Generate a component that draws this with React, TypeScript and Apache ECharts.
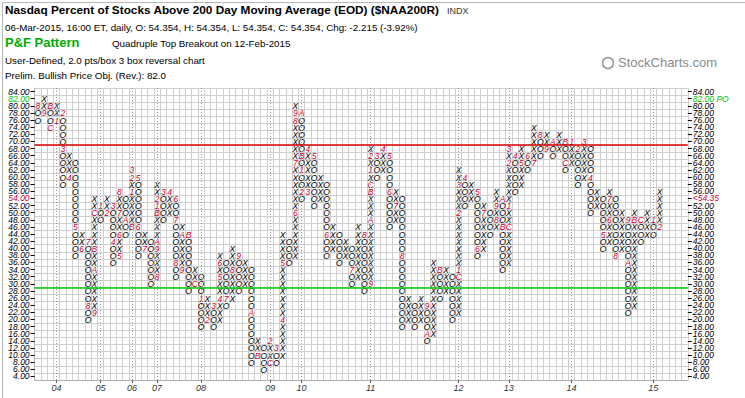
import React, { useEffect, useRef } from "react";
import * as echarts from "echarts";

// ---- P&F columns (even index = O column, odd index = X column), box size 2 ----
const colBottom = [76,78,74,76,58,60,38,40,20,22,48,50,36,38,44,46,38,40,30,32,48,50,32,34,28,30,18,20,18,20,24,26,28,30,8,10,6,8,8,10,36,38,54,56,52,54,38,40,36,38,30,32,28,30,60,62,46,48,18,20,18,20,14,16,26,28,20,22,52,54,38,40,44,46,34,36,56,58,62,64,66,68,66,68,62,64,58,60,50,52,40,42,38,40,22,24,42,44,44,46];
const colTop =    [80,82,80,80,78,66,64,44,42,54,52,54,52,56,54,62,60,44,42,58,56,56,54,46,44,34,32,26,24,38,36,40,38,36,34,14,12,14,12,44,42,80,78,68,66,60,58,46,44,42,40,46,44,68,66,68,66,56,54,26,24,26,24,36,34,34,32,62,60,58,56,52,50,56,54,68,66,68,66,74,72,72,70,72,70,70,68,70,68,56,54,56,54,50,48,50,48,50,48,56];

// ---- month markers (1-9, A=Oct, B=Nov, C=Dec) ----
const monthCol = [0,1,2,2,3,4,4,5,6,7,8,8,9,9,9,9,10,11,12,12,13,13,13,13,14,15,15,15,15,16,16,17,19,19,19,19,19,19,20,21,22,22,22,23,23,24,25,26,27,28,29,29,29,30,31,32,34,35,37,37,38,39,39,41,41,41,41,42,42,42,42,43,43,44,46,50,52,53,53,53,53,53,53,54,55,56,56,57,58,62,62,64,67,67,67,67,68,70,70,71,73,73,74,74,75,75,75,75,76,77,78,79,80,81,82,84,84,85,86,87,88,90,91,91,92,94,94,95,96,98,99];
const monthVal = [80,78,80,74,76,78,68,60,46,40,42,24,22,34,40,50,52,50,52,42,38,44,50,56,48,46,56,60,62,60,46,40,32,40,42,50,52,54,56,56,54,48,36,34,44,44,30,26,20,24,26,32,36,26,34,38,22,10,8,14,12,20,36,50,64,76,78,78,66,62,56,56,68,66,44,34,44,30,48,56,58,62,66,66,68,66,56,52,38,24,16,34,32,34,50,58,60,56,40,50,48,52,54,46,46,52,64,68,66,64,66,64,72,68,70,70,64,70,68,70,60,44,48,54,38,48,36,48,48,48,46];
const monthTxt = ["8","9","B","C","1","2","3","4","5","6","7","8","9","A","B","C","1","2","3","4","5","6","7","8","A","B","1","2","3","5","6","7","8","9","A","B","1","2","3","4","6","7","8","9","A","B","C","1","2","3","4","5","6","7","8","9","A","B","C","2","3","4","5","6","7","8","9","A","B","1","2","3","4","5","6","7","8","9","A","B","C","1","2","3","4","5","6","7","8","9","A","B","C","1","2","3","4","5","6","7","8","9","A","B","C","1","2","3","4","5","6","7","8","9","A","B","C","1","2","3","4","5","6","7","8","9","A","B","C","1","2"];

const yearCol = [3,10,15,19,26,37,42,53,67,75,85,98];
const yearTxt = ["04","05","06","07","08","09","10","11","12","13","14","15"];
const leftLabels = ["4.00","6.00","8.00","10.00","12.00","14.00","16.00","18.00","20.00","22.00","24.00","26.00","28.00","30.00","32.00","34.00","36.00","38.00","40.00","42.00","44.00","46.00","48.00","50.00","52.00","54.00","56.00","58.00","60.00","62.00","64.00","66.00","68.00","70.00","72.00","74.00","76.00","78.00","80.00","82.00","84.00"];
const rightLabels = ["4.00","6.00","8.00","10.00","12.00","14.00","16.00","18.00","20.00","22.00","24.00","26.00","28.00","30.00","32.00","34.00","36.00","38.00","40.00","42.00","44.00","46.00","48.00","50.00","52.00","<54.35","56.00","58.00","60.00","62.00","64.00","66.00","68.00","70.00","72.00","74.00","76.00","78.00","80.00","82.00 PO","84.00"];
const resistanceLevel = 69;
const supportLevel = 29;
const totalCols = 104;

const RED = "#cc0033";
const GREEN = "#00c000";
const FONT = "Liberation Sans";

export default function App() {
  const ref = useRef<HTMLDivElement>(null);
  useEffect(() => {
    document.body.style.margin = "0";
    const chart = echarts.init(ref.current!, null, { renderer: "svg" });
    const toY = (v: number) => (v - 3) / 2;
    const boxes: [number, number, string, boolean][] = [];
    colBottom.forEach((b, c) => {
      const t = c % 2 === 0 ? "O" : "X";
      for (let v = b; v <= colTop[c]; v += 2) boxes.push([c + 0.5, toY(v), t, false]);
    });
    monthCol.forEach((c, i) => {
      const idx = boxes.findIndex((bx) => bx[0] === c + 0.5 && bx[1] === toY(monthVal[i]));
      if (idx >= 0) { boxes[idx][2] = monthTxt[i]; boxes[idx][3] = true; }
    });
    const xCats = Array.from({ length: totalCols }, (_, i) => {
      const k = yearCol.indexOf(i);
      return k >= 0 ? yearTxt[k] : "";
    });
    const txt = (x: number, y: number, text: string, size: number, color = "#000", weight = "normal") => ({
      type: "text", left: x, top: y,
      style: { text, fill: color, fontSize: size, fontFamily: FONT, fontWeight: weight },
    });
    const axisLbl = (hl: (v: string) => string) => ({
      interval: 0, fontSize: 8.5, lineHeight: 7, fontFamily: FONT, fontStyle: "italic", color: "#000", margin: 5,
      formatter: hl,
      rich: {
        g: { color: GREEN, fontSize: 8.5, lineHeight: 7, fontStyle: "italic", fontFamily: FONT },
        r: { color: RED, fontSize: 8.5, lineHeight: 7, fontStyle: "italic", fontFamily: FONT },
      },
    });
    chart.setOption({
      animation: false,
      backgroundColor: "#fff",
      grid: { left: 34.6, right: 57.2, top: 88, bottom: 18 },
      graphic: [
        { type: "rect", left: 0, top: 0, shape: { width: 744, height: 397 }, style: { fill: "none", stroke: "#b8b8b8", lineWidth: 1 } },
        txt(5, 4, "Nasdaq Percent of Stocks Above 200 Day Moving Average (EOD) ($NAA200R)", 11.8, "#000", "bold"),
        txt(447, 6, "INDX", 9, "#333"),
        txt(5, 22, "06-Mar-2015, 16:00 ET, daily, O: 54.354, H: 54.354, L: 54.354, C: 54.354, Chg: -2.215 (-3.92%)", 9.8),
        txt(5, 36, "P&F Pattern", 13, "#00aa00", "bold"),
        txt(112, 38, "Quadruple Top Breakout on 12-Feb-2015", 9.8),
        txt(5, 55, "User-Defined, 2.0 pts/box 3 box reversal chart", 9.8),
        txt(5, 70, "Prelim. Bullish Price Obj. (Rev.): 82.0", 9.8),
        { type: "circle", shape: { cx: 608, cy: 63, r: 5.5 }, style: { fill: "none", stroke: "#999", lineWidth: 1.5 } },
        txt(618, 56, "StockCharts.com", 13, "#8a8a8a"),
      ],
      xAxis: [
        { type: "value", min: 0, max: totalCols, interval: 1, axisLabel: { show: false }, axisTick: { show: false },
          axisLine: { show: true, lineStyle: { color: "#b0b0b0" } }, splitLine: { show: true, lineStyle: { color: "#cfcfcf", width: 1 } } },
        { type: "category", data: xCats, position: "bottom", boundaryGap: true,
          axisLine: { show: false },
          axisTick: { show: true, alignWithLabel: true, length: 3, interval: (i: number) => yearCol.indexOf(i) >= 0, lineStyle: { color: "#666" } },
          axisLabel: { interval: 0, fontSize: 9, color: "#333", fontFamily: FONT, fontStyle: "italic", margin: 3 },
          splitLine: { show: false } },
      ],
      yAxis: [
        { type: "value", min: 0, max: 41, interval: 1, axisLabel: { show: false }, axisTick: { show: false },
          axisLine: { show: true, lineStyle: { color: "#b0b0b0" } }, splitLine: { show: true, lineStyle: { color: "#cfcfcf", width: 1 } } },
        { type: "category", data: leftLabels, position: "left", boundaryGap: true, axisLine: { show: false },
          axisTick: { show: true, alignWithLabel: true, length: 4, lineStyle: { color: "#000" } },
          axisLabel: axisLbl((v: string) => (v === "82.00" ? "{g|" + v + "}" : v === "54.00" ? "{r|" + v + "}" : v)) },
        { type: "category", data: rightLabels, position: "right", boundaryGap: true, axisLine: { show: false },
          axisTick: { show: true, alignWithLabel: true, length: 4, lineStyle: { color: "#000" } },
          axisLabel: axisLbl((v: string) => (v === "82.00 PO" ? "{g|" + v + "}" : v === "<54.35" ? "{r|" + v + "}" : v)) },
      ],
      series: [
        {
          type: "line", xAxisIndex: 0, yAxisIndex: 0, data: [], silent: true, symbol: "none",
          markLine: {
            silent: true, symbol: "none", label: { show: false },
            data: [
              ...yearCol.map((c) => ({ xAxis: c + 0.5, lineStyle: { color: "#999", type: [1, 2], width: 1 } })),
              { yAxis: toY(resistanceLevel), lineStyle: { color: "#dd0000", type: "solid", width: 1.5 } },
              { yAxis: toY(supportLevel), lineStyle: { color: "#00cc00", type: "solid", width: 1.5 } },
            ],
          },
        },
        {
          type: "custom", xAxisIndex: 0, yAxisIndex: 0, data: boxes.map((b) => [b[0], b[1]]),
          renderItem: (params: any, api: any) => {
            const b = boxes[params.dataIndex];
            const p = api.coord([api.value(0), api.value(1)]);
            return {
              type: "text", x: p[0], y: p[1] + 0.5,
              style: { text: b[2], fill: b[3] ? RED : "#000", fontSize: 8.5, lineHeight: 7, fontFamily: FONT, fontStyle: "italic", align: "center", verticalAlign: "middle" },
            };
          },
        },
      ],
    });
    return () => chart.dispose();
  }, []);
  return <div ref={ref} style={{ width: 745, height: 398 }} />;
}
